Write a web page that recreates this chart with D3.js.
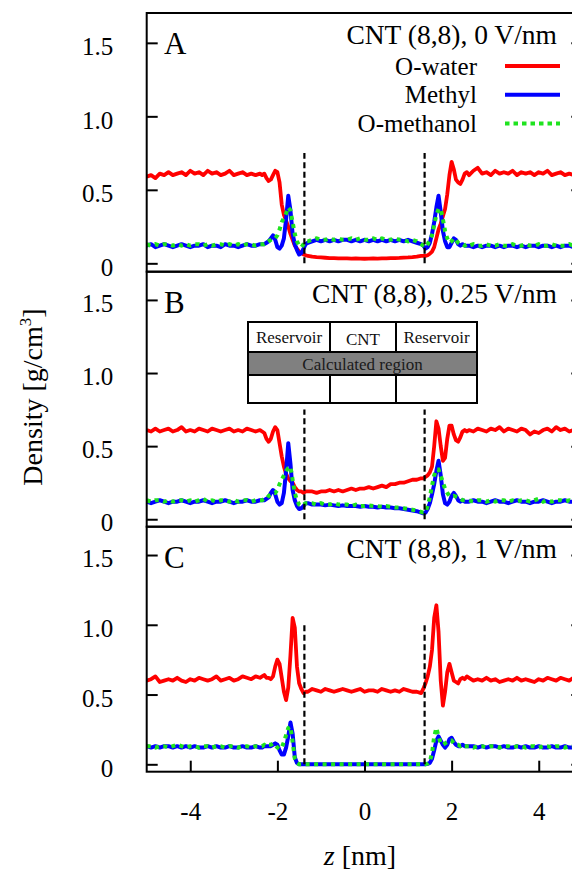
<!DOCTYPE html>
<html><head><meta charset="utf-8">
<script src="https://cdn.jsdelivr.net/npm/d3@7"></script>
<style>html,body{margin:0;padding:0;background:#fff;} svg{display:block;font-family:"Liberation Serif","Times New Roman",Times,serif;}</style>
</head><body>
<svg id="chart" width="572" height="871"></svg>
<script>
// ---------- DATA ----------
const z = [
-5.0,-4.9,-4.8,-4.7,-4.6,-4.5,-4.4,-4.3,-4.2,-4.1,-4.0,-3.9,-3.8,-3.7,-3.6,-3.5,-3.4,-3.3,-3.2,-3.1,-3.0,-2.9,-2.8,-2.7,-2.6,-2.5,-2.4,
-2.35,-2.3,-2.25,-2.2,-2.15,-2.1,-2.05,-2.0,-1.95,-1.9,-1.85,-1.8,-1.75,-1.7,-1.65,-1.6,-1.55,-1.5,-1.45,-1.4,-1.35,
-1.3,-1.2,-1.1,-1.0,-0.9,-0.8,-0.7,-0.6,-0.5,-0.4,-0.3,-0.2,-0.1,0,0.1,0.2,0.3,0.4,0.5,0.6,0.7,0.8,0.9,1.0,1.1,1.2,1.3,
1.35,1.4,1.45,1.5,1.55,1.6,1.65,1.7,1.75,1.8,1.85,1.9,1.95,2.0,2.05,2.1,2.15,2.2,2.25,2.3,2.35,
2.4,2.5,2.6,2.7,2.8,2.9,3.0,3.1,3.2,3.3,3.4,3.5,3.6,3.7,3.8,3.9,4.0,4.1,4.2,4.3,4.4,4.5,4.6,4.7,4.8,4.9,5.0
];

// Panel A: CNT (8,8), 0 V/nm
const waterA = [
0.59,0.60,0.58,0.61,0.60,0.62,0.60,0.61,0.62,0.60,0.63,0.61,0.62,0.60,0.63,0.61,0.62,0.60,0.61,0.63,0.60,0.61,0.62,0.60,0.61,0.60,0.61,
0.60,0.61,0.58,0.56,0.57,0.60,0.63,0.62,0.55,0.40,0.33,0.29,0.25,0.20,0.16,0.12,0.10,0.08,0.07,0.06,0.055,
0.050,0.045,0.042,0.040,0.038,0.036,0.035,0.034,0.033,0.034,0.032,0.033,0.032,0.031,0.032,0.033,0.032,0.034,0.033,0.035,0.036,0.037,0.039,0.040,0.042,0.045,0.050,
0.05,0.05,0.055,0.065,0.08,0.11,0.17,0.23,0.27,0.32,0.37,0.47,0.60,0.69,0.64,0.57,0.55,0.54,0.57,0.61,0.62,
0.60,0.63,0.65,0.61,0.62,0.60,0.63,0.61,0.62,0.61,0.63,0.60,0.62,0.61,0.62,0.60,0.62,0.61,0.63,0.60,0.61,0.62,0.60,0.61,0.60,0.61,0.60
];
const methylA = [
0.12,0.13,0.11,0.12,0.13,0.12,0.11,0.12,0.13,0.12,0.11,0.12,0.12,0.13,0.11,0.12,0.12,0.11,0.13,0.12,0.12,0.11,0.12,0.13,0.12,0.12,0.13,
0.13,0.13,0.14,0.15,0.17,0.19,0.16,0.11,0.10,0.12,0.17,0.30,0.46,0.36,0.20,0.13,0.09,0.06,0.07,0.10,0.13,
0.14,0.15,0.16,0.15,0.16,0.15,0.16,0.15,0.16,0.16,0.15,0.16,0.15,0.16,0.15,0.16,0.15,0.16,0.15,0.16,0.15,0.16,0.15,0.16,0.15,0.14,0.13,
0.12,0.10,0.11,0.14,0.20,0.28,0.38,0.46,0.35,0.22,0.15,0.11,0.11,0.14,0.17,0.16,0.13,0.12,0.13,0.12,0.12,
0.12,0.11,0.12,0.11,0.12,0.12,0.11,0.12,0.11,0.12,0.12,0.11,0.12,0.11,0.12,0.12,0.11,0.12,0.12,0.11,0.12,0.11,0.12,0.12,0.11,0.12,0.11
];
const methanolA = [
0.13,0.12,0.13,0.12,0.13,0.13,0.12,0.13,0.12,0.13,0.12,0.13,0.13,0.12,0.13,0.12,0.13,0.13,0.12,0.13,0.12,0.13,0.12,0.13,0.13,0.12,0.13,
0.13,0.13,0.14,0.15,0.16,0.17,0.17,0.19,0.23,0.28,0.31,0.34,0.38,0.36,0.28,0.20,0.15,0.12,0.11,0.13,0.15,
0.15,0.16,0.17,0.16,0.16,0.17,0.16,0.17,0.16,0.16,0.17,0.16,0.17,0.16,0.16,0.17,0.16,0.17,0.16,0.16,0.17,0.16,0.16,0.15,0.16,0.15,0.13,
0.12,0.11,0.13,0.16,0.19,0.26,0.33,0.37,0.37,0.30,0.22,0.17,0.14,0.15,0.17,0.16,0.14,0.13,0.13,0.12,0.13,
0.12,0.13,0.12,0.12,0.13,0.12,0.12,0.13,0.12,0.12,0.13,0.12,0.12,0.13,0.12,0.12,0.13,0.12,0.12,0.13,0.12,0.12,0.12,0.13,0.12,0.12,0.13
];

// Panel B: CNT (8,8), 0.25 V/nm
const waterB = [
0.61,0.60,0.62,0.60,0.61,0.62,0.60,0.61,0.63,0.60,0.61,0.60,0.62,0.61,0.60,0.62,0.61,0.60,0.61,0.62,0.60,0.61,0.60,0.62,0.61,0.60,0.61,
0.60,0.59,0.55,0.53,0.55,0.60,0.63,0.61,0.52,0.43,0.36,0.31,0.28,0.26,0.25,0.22,0.20,0.19,0.19,0.18,0.19,
0.19,0.19,0.18,0.19,0.19,0.20,0.19,0.20,0.19,0.20,0.21,0.20,0.21,0.21,0.22,0.21,0.22,0.23,0.22,0.24,0.24,0.25,0.25,0.26,0.27,0.27,0.28,
0.28,0.29,0.30,0.32,0.36,0.50,0.67,0.62,0.50,0.40,0.42,0.55,0.64,0.64,0.58,0.54,0.53,0.56,0.60,0.61,0.60,
0.61,0.60,0.62,0.61,0.60,0.62,0.61,0.63,0.60,0.62,0.61,0.60,0.62,0.61,0.58,0.60,0.59,0.61,0.62,0.60,0.63,0.61,0.62,0.60,0.61,0.62,0.60
];
const methylB = [
0.12,0.11,0.12,0.13,0.12,0.11,0.12,0.12,0.13,0.12,0.11,0.12,0.12,0.13,0.12,0.11,0.12,0.12,0.13,0.12,0.11,0.12,0.12,0.13,0.12,0.12,0.13,
0.13,0.13,0.14,0.15,0.18,0.20,0.17,0.12,0.10,0.11,0.18,0.33,0.52,0.38,0.20,0.13,0.09,0.07,0.075,0.09,0.11,
0.11,0.10,0.10,0.10,0.095,0.10,0.095,0.09,0.095,0.09,0.09,0.09,0.085,0.09,0.085,0.085,0.08,0.085,0.08,0.08,0.075,0.075,0.07,0.065,0.06,0.055,0.045,
0.04,0.045,0.07,0.11,0.17,0.24,0.33,0.40,0.30,0.17,0.11,0.10,0.12,0.16,0.18,0.16,0.13,0.12,0.13,0.12,0.12,
0.12,0.13,0.12,0.12,0.11,0.12,0.13,0.12,0.12,0.11,0.12,0.13,0.12,0.12,0.11,0.12,0.12,0.13,0.12,0.11,0.12,0.12,0.13,0.12,0.12,0.11,0.12
];
const methanolB = [
0.13,0.12,0.13,0.13,0.12,0.13,0.12,0.13,0.13,0.12,0.13,0.12,0.13,0.14,0.12,0.13,0.12,0.13,0.13,0.12,0.13,0.12,0.13,0.13,0.12,0.13,0.13,
0.13,0.14,0.14,0.16,0.17,0.18,0.18,0.20,0.24,0.27,0.30,0.33,0.35,0.36,0.27,0.18,0.13,0.10,0.09,0.10,0.11,
0.11,0.11,0.10,0.11,0.10,0.10,0.11,0.10,0.10,0.10,0.09,0.10,0.09,0.09,0.095,0.09,0.09,0.085,0.09,0.085,0.08,0.08,0.075,0.07,0.065,0.06,0.05,
0.045,0.05,0.09,0.15,0.23,0.30,0.34,0.34,0.30,0.25,0.21,0.18,0.16,0.155,0.16,0.155,0.15,0.14,0.13,0.13,0.13,
0.13,0.12,0.13,0.13,0.12,0.13,0.12,0.13,0.13,0.12,0.13,0.12,0.13,0.13,0.12,0.13,0.14,0.12,0.13,0.12,0.13,0.13,0.12,0.13,0.12,0.13,0.12
];

// Panel C: CNT (8,8), 1 V/nm
const waterC = [
0.60,0.61,0.63,0.59,0.60,0.61,0.60,0.62,0.60,0.59,0.61,0.60,0.62,0.61,0.60,0.61,0.63,0.60,0.61,0.62,0.60,0.61,0.63,0.62,0.61,0.63,0.62,
0.63,0.64,0.62,0.62,0.61,0.63,0.70,0.75,0.72,0.62,0.52,0.46,0.55,0.78,1.05,0.98,0.70,0.58,0.54,0.51,0.52,
0.52,0.54,0.53,0.52,0.54,0.53,0.52,0.53,0.54,0.53,0.52,0.53,0.54,0.52,0.53,0.53,0.52,0.54,0.53,0.52,0.53,0.52,0.54,0.53,0.52,0.52,0.51,
0.54,0.58,0.63,0.70,0.82,1.05,1.14,0.95,0.60,0.42,0.52,0.66,0.72,0.66,0.60,0.59,0.58,0.61,0.62,0.61,0.63,
0.62,0.60,0.61,0.60,0.62,0.60,0.61,0.59,0.60,0.61,0.60,0.62,0.60,0.61,0.60,0.59,0.61,0.60,0.62,0.61,0.60,0.62,0.61,0.60,0.62,0.61,0.62
];
const methylC = [
0.13,0.12,0.13,0.12,0.13,0.13,0.12,0.13,0.12,0.13,0.12,0.13,0.12,0.12,0.13,0.12,0.13,0.12,0.12,0.13,0.12,0.12,0.13,0.12,0.12,0.13,0.12,
0.12,0.13,0.13,0.13,0.13,0.14,0.15,0.14,0.10,0.07,0.07,0.12,0.20,0.30,0.22,0.05,0.01,0,0,0,0,
0,0,0,0,0,0,0,0,0,0,0,0,0,0,0,0,0,0,0,0,0,0,0,0,0,0,0,
0,0,0.003,0.01,0.04,0.10,0.17,0.20,0.17,0.14,0.12,0.14,0.18,0.19,0.16,0.14,0.13,0.13,0.14,0.13,0.13,
0.13,0.13,0.12,0.13,0.12,0.13,0.13,0.12,0.13,0.12,0.12,0.13,0.12,0.13,0.12,0.12,0.13,0.12,0.12,0.13,0.12,0.12,0.13,0.12,0.12,0.13,0.12
];
const methanolC = [
0.13,0.13,0.12,0.13,0.13,0.12,0.13,0.14,0.13,0.12,0.13,0.13,0.12,0.13,0.13,0.12,0.13,0.13,0.12,0.13,0.13,0.12,0.13,0.13,0.12,0.13,0.13,
0.13,0.14,0.13,0.14,0.14,0.15,0.14,0.12,0.11,0.12,0.16,0.21,0.26,0.27,0.16,0.04,0.01,0,0,0,0,
0,0,0,0,0,0,0,0,0,0,0,0,0,0,0,0,0,0,0,0,0,0,0,0,0,0,0,
0,0,0.005,0.02,0.08,0.20,0.26,0.20,0.15,0.14,0.15,0.16,0.17,0.17,0.15,0.14,0.14,0.13,0.14,0.13,0.13,
0.13,0.12,0.13,0.13,0.12,0.13,0.13,0.12,0.13,0.13,0.12,0.13,0.13,0.12,0.13,0.13,0.12,0.13,0.13,0.12,0.13,0.13,0.12,0.13,0.13,0.12,0.13
];

const panelLetters = ["A", "B", "C"];
const panelTitles = ["CNT (8,8), 0 V/nm", "CNT (8,8), 0.25 V/nm", "CNT (8,8), 1 V/nm"];
const seriesNames = ["O-water", "Methyl", "O-methanol"];
const tubeEdges = [-1.38, 1.38];          // CNT ends (dashed lines), nm
const tubeMarkTop = [0.75, 0.75, 1.0];    // height of dashed lines per panel
const yTicks = [0, 0.5, 1.0, 1.5];
const yTickLabels = ["0", "0.5", "1.0", "1.5"];
const xTicks = [-4, -2, 0, 2, 4];
const xTickLabels = ["-4", "-2", "0", "2", "4"];
const insetTop = ["Reservoir", "CNT", "Reservoir"];
const insetBand = "Calculated region";

// ---------- DRAW ----------
const W = 572, H = 871;
const FONT = '"Liberation Serif","Times New Roman",Times,serif';
const RED = "#ff0000", BLUE = "#0000ff", GREEN = "#1fe31f";
const svg = d3.select("#chart");
svg.append("rect").attr("width", W).attr("height", H).attr("fill", "#fff");

const X0 = 146.7, X1 = 582.3;
const x = d3.scaleLinear().domain([-5, 5]).range([X0, X1]);

const panels = [
  { top: 13,    bottom: 271.7, dom: [-0.057, 1.703], w: waterA, m: methylA, o: methanolA },
  { top: 271.7, bottom: 526.7, dom: [-0.051, 1.693], w: waterB, m: methylB, o: methanolB },
  { top: 526.7, bottom: 771.7, dom: [-0.053, 1.703], w: waterC, m: methylC, o: methanolC }
];

panels.forEach((p, pi) => {
  const y = d3.scaleLinear().domain(p.dom).range([p.bottom, p.top]);
  const g = svg.append("g");
  const clipId = "clip" + pi;
  svg.append("clipPath").attr("id", clipId).append("rect")
    .attr("x", X0).attr("y", p.top).attr("width", X1 - X0).attr("height", p.bottom - p.top);

  const line = d3.line().x((d, i) => x(z[i])).y(d => y(d)).curve(d3.curveLinear);
  const data = g.append("g").attr("clip-path", `url(#${clipId})`);
  data.append("path").attr("d", line(p.w)).attr("fill", "none").attr("stroke", RED)
    .attr("stroke-width", 3.8).attr("stroke-linejoin", "round");
  data.append("path").attr("d", line(p.m)).attr("fill", "none").attr("stroke", BLUE)
    .attr("stroke-width", 4).attr("stroke-linejoin", "round");
  data.append("path").attr("d", line(p.o)).attr("fill", "none").attr("stroke", GREEN)
    .attr("stroke-width", 4).attr("stroke-dasharray", "4,4.5");

  // dashed CNT boundaries
  tubeEdges.forEach(e => {
    g.append("line").attr("x1", x(e)).attr("x2", x(e))
      .attr("y1", y(0)).attr("y2", y(tubeMarkTop[pi]))
      .attr("stroke", "#000").attr("stroke-width", 2.2).attr("stroke-dasharray", "6,3.5");
  });

  // axes
  const left = g.append("g").attr("transform", `translate(${X0},0)`)
    .call(d3.axisLeft(y).tickValues(yTicks).tickFormat((d, i) => yTickLabels[i])
      .tickSizeInner(-11).tickSizeOuter(0).tickPadding(33.5));
  left.select(".domain").remove();
  left.selectAll("line").attr("stroke", "#000").attr("stroke-width", 2);
  left.selectAll("text").attr("font-family", FONT).attr("font-size", 25)
    .attr("fill", "#000").attr("dy", "0.47em");

  const right = g.append("g").attr("transform", `translate(${X1},0)`)
    .call(d3.axisRight(y).tickValues(yTicks).tickFormat("").tickSizeInner(-11).tickSizeOuter(0));
  right.select(".domain").remove();
  right.selectAll("line").attr("stroke", "#000").attr("stroke-width", 2);

  if (pi === 2) {
    const bottom = g.append("g").attr("transform", `translate(0,${p.bottom})`)
      .call(d3.axisBottom(x).tickValues(xTicks).tickFormat((d, i) => xTickLabels[i])
        .tickSizeInner(-11).tickSizeOuter(0).tickPadding(30.5));
    bottom.select(".domain").remove();
    bottom.selectAll("line").attr("stroke", "#000").attr("stroke-width", 2);
    bottom.selectAll("text").attr("font-family", FONT).attr("font-size", 25).attr("fill", "#000");
  }

  // frame
  g.append("rect").attr("x", X0).attr("y", p.top).attr("width", X1 - X0).attr("height", p.bottom - p.top)
    .attr("fill", "none").attr("stroke", "#000").attr("stroke-width", 2);

  // panel letter and title
  g.append("text").attr("x", 164).attr("y", p.top + 41).attr("font-size", 31)
    .attr("font-family", FONT).text(panelLetters[pi]);
  g.append("text").attr("x", 557).attr("y", p.top + 31).attr("font-size", 27.5)
    .attr("font-family", FONT).attr("text-anchor", "end").text(panelTitles[pi]);
});

// legend (panel A)
const legendColors = [RED, BLUE, GREEN];
seriesNames.forEach((name, i) => {
  const by = 74.5 + i * 28.8;
  svg.append("text").attr("x", 477).attr("y", by).attr("text-anchor", "end")
    .attr("font-size", 25).attr("font-family", FONT).text(name);
  const l = svg.append("line").attr("x1", 505).attr("x2", 560).attr("y1", by - 8.5).attr("y2", by - 8.5)
    .attr("stroke", legendColors[i]).attr("stroke-width", 4);
  if (i === 2) l.attr("stroke-dasharray", "4.5,4");
});

// inset schematic (panel B)
const ins = svg.append("g");
const bx0 = 248, bx1 = 477, c1 = 330, c2 = 396;
const ry0 = 322, ry1 = 352, ry2 = 375, ry3 = 403;
ins.append("rect").attr("x", bx0).attr("y", ry0).attr("width", bx1 - bx0).attr("height", ry3 - ry0)
  .attr("fill", "#fff").attr("stroke", "none");
ins.append("rect").attr("x", bx0).attr("y", ry1).attr("width", bx1 - bx0).attr("height", ry2 - ry1)
  .attr("fill", "#808080");
[[bx0, c1], [c1, c2], [c2, bx1]].forEach(([a, b]) => {
  ins.append("rect").attr("x", a).attr("y", ry0).attr("width", b - a).attr("height", ry1 - ry0)
    .attr("fill", "none").attr("stroke", "#000").attr("stroke-width", 2);
  ins.append("rect").attr("x", a).attr("y", ry2).attr("width", b - a).attr("height", ry3 - ry2)
    .attr("fill", "none").attr("stroke", "#000").attr("stroke-width", 2);
});
ins.append("rect").attr("x", bx0).attr("y", ry0).attr("width", bx1 - bx0).attr("height", ry3 - ry0)
  .attr("fill", "none").attr("stroke", "#000").attr("stroke-width", 2);
const cellCenters = [(bx0 + c1) / 2, (c1 + c2) / 2, (c2 + bx1) / 2];
insetTop.forEach((t, i) => {
  ins.append("text").attr("x", cellCenters[i]).attr("y", i === 1 ? 345 : 343)
    .attr("text-anchor", "middle").attr("font-size", 17).attr("font-family", FONT)
    .attr("fill", "#111").text(t);
});
ins.append("text").attr("x", (bx0 + bx1) / 2).attr("y", 369.5).attr("text-anchor", "middle")
  .attr("font-size", 17).attr("font-family", FONT).attr("fill", "#1a1a1a").text(insetBand);

// axis titles
const yl = svg.append("text").attr("transform", "translate(42,397) rotate(-90)")
  .attr("text-anchor", "middle").attr("font-size", 28).attr("font-family", FONT);
yl.append("tspan").text("Density [g/cm");
yl.append("tspan").attr("font-size", 17).attr("dy", -11).text("3");
yl.append("tspan").attr("dy", 11).text("]");

const xl = svg.append("text").attr("x", 360).attr("y", 865).attr("text-anchor", "middle")
  .attr("font-size", 28).attr("font-family", FONT);
xl.append("tspan").attr("font-style", "italic").text("z");
xl.append("tspan").text(" [nm]");
</script>
</body></html>
